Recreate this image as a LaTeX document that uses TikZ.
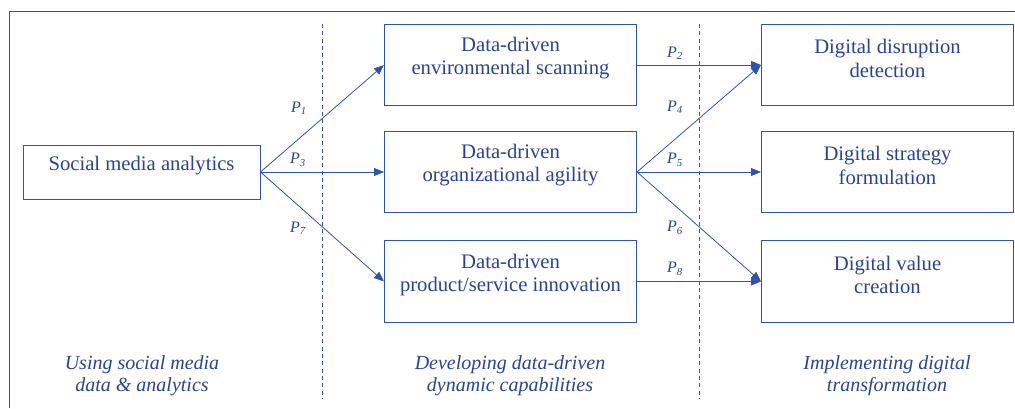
\documentclass[tikz,border=0pt]{standalone}
\usepackage{fontspec}
\setmainfont{Liberation Serif}
\usetikzlibrary{arrows.meta}
\definecolor{lc}{RGB}{47,84,165}
\definecolor{tc}{RGB}{40,68,145}
\begin{document}
\begin{tikzpicture}[x=0.75pt,y=-0.75pt,
 box/.style={draw=lc,line width=0.75pt,minimum width=189pt,minimum height=61pt,inner sep=0pt},
 boxtext/.style={text=tc,font=\fontsize{15.5}{17.5}\selectfont,align=center,inner sep=0pt},
 conn/.style={draw=lc,line width=0.6pt,-{Triangle[length=7.5pt,width=6pt]}},
 plabel/.style={text=tc,font=\fontsize{12}{14}\selectfont\itshape,inner sep=0pt},
 phase/.style={text=tc,font=\fontsize{15}{16.5}\selectfont\itshape,align=center,inner sep=0pt},
 divider/.style={draw=lc,line width=0.6pt,dash pattern=on 3pt off 2.5pt},
 frameline/.style={draw=lc,line width=0.75pt}]
\useasboundingbox (0,0) rectangle (1015,408);
% frame (top and left edges)
\draw[frameline] (9,408) -- (9,11) -- (1015,11);
% dividers
\draw[divider] (322,24) -- (322,399);
\draw[divider] (699,24) -- (699,399);
% boxes
\node[box,minimum width=177.75pt,minimum height=40.5pt] (sma) at (141.5,172) {};
\node[box] (m1) at (510.5,65) {};
\node[box] (m2) at (510.5,172) {};
\node[box] (m3) at (510.5,281.5) {};
\node[box] (r1) at (887.5,65) {};
\node[box] (r2) at (887.5,172) {};
\node[box] (r3) at (887.5,281.5) {};
% box texts
\node[boxtext] (smat) at ([yshift=4.5pt]sma.center) {Social media analytics};
\node[boxtext] (m1t) at ([yshift=5pt]m1.center) {Data-driven\\environmental scanning};
\node[boxtext] (m2t) at ([yshift=5pt]m2.center) {Data-driven\\organizational agility};
\node[boxtext] (m3t) at ([yshift=5pt]m3.center) {Data-driven\\product/service innovation};
\node[boxtext] (r1t) at ([yshift=5pt]r1.center) {Digital disruption\\detection};
\node[boxtext] (r2t) at ([yshift=5pt]r2.center) {Digital strategy\\formulation};
\node[boxtext] (r3t) at ([yshift=5pt]r3.center) {Digital value\\creation};
% connectors
\draw[conn] (sma.east) -- (m1.west);
\draw[conn] (sma.east) -- (m2.west);
\draw[conn] (sma.east) -- (m3.west);
\draw[conn] (m1.east) -- (r1.west);
\draw[conn] (m2.east) -- (r1.west);
\draw[conn] (m2.east) -- (r2.west);
\draw[conn] (m2.east) -- (r3.west);
\draw[conn] (m3.east) -- (r3.west);
% path labels
\node[plabel] (p1) at (299,108) {P\textsubscript{1}};
\node[plabel] (p3) at (298,160) {P\textsubscript{3}};
\node[plabel] (p7) at (298,228) {P\textsubscript{7}};
\node[plabel] (p2) at (675,53) {P\textsubscript{2}};
\node[plabel] (p4) at (675,107) {P\textsubscript{4}};
\node[plabel] (p5) at (675,160) {P\textsubscript{5}};
\node[plabel] (p6) at (675,228) {P\textsubscript{6}};
\node[plabel] (p8) at (675,269) {P\textsubscript{8}};
% phase labels
\node[phase] (ph1) at (142,376) {Using social media\\data \& analytics};
\node[phase] (ph2) at (510,376) {Developing data-driven\\dynamic capabilities};
\node[phase] (ph3) at (887,376) {Implementing digital\\transformation};
\end{tikzpicture}
\end{document}
